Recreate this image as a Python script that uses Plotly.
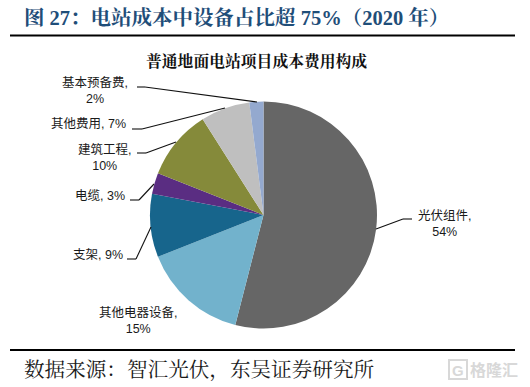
import plotly.graph_objects as go

W, H = 530, 387

categories = ["光伏组件", "其他电器设备", "支架", "电缆", "建筑工程", "其他费用", "基本预备费"]
values = [54, 15, 9, 3, 10, 7, 2]
colors = ["#666666", "#72B2CC", "#17658C", "#5A2D82", "#858A3A", "#BFBFBF", "#94A9CF"]

figure_title = "图 27\uff1a电站成本中设备占比超 75%\uff082020 年\uff09"
chart_title = "普通地面电站项目成本费用构成"
source_text = "数据来源\uff1a智汇光伏\uff0c东吴证券研究所"
watermark = "格隆汇"

SANS = "Liberation Sans, Noto Sans CJK SC, sans-serif"
SERIF = "Liberation Serif, Noto Serif CJK SC, Noto Sans CJK SC, serif"


def px(x):
    return x / W


def py(y):
    return 1 - y / H


fig = go.Figure(
    go.Pie(
        labels=categories,
        values=values,
        sort=False,
        direction="clockwise",
        rotation=0,
        textinfo="none",
        hoverinfo="label+percent",
        marker=dict(colors=colors, line=dict(width=0)),
        domain=dict(x=[px(150), px(377)], y=[py(328.5), py(101.5)]),
        showlegend=False,
    )
)

# label layout: centre x, centre y, two_lines, leader polyline
label_layout = {
    "基本预备费": (95, 91, True, [(137, 87), (145, 87), (257, 102)]),
    "其他费用": (88, 124, False, [(132, 129), (142, 129), (225, 108)]),
    "建筑工程": (104.5, 157.5, True, [(137, 153), (146, 153), (176, 142)]),
    "电缆": (100, 196, False, [(130, 200), (139, 200), (154, 184)]),
    "支架": (97.5, 255, False, [(127, 259), (136, 259), (151, 227)]),
    "其他电器设备": (137.5, 320.5, True, None),
    "光伏组件": (444, 223.5, True, [(412, 219), (403, 219), (376, 229)]),
}

annotations = []
shapes = []


def add_text(text, x, y, size, color="#1a1a1a", family=SANS, anchor="center"):
    annotations.append(
        dict(
            text=text,
            x=px(x),
            y=py(y),
            xref="paper",
            yref="paper",
            xanchor=anchor,
            yanchor="middle",
            showarrow=False,
            align="center",
            font=dict(size=size, color=color, family=family),
        )
    )


def add_line(x0, y0, x1, y1, width=1.1, color="#111111"):
    shapes.append(
        dict(
            type="line",
            xref="paper",
            yref="paper",
            x0=px(x0),
            y0=py(y0),
            x1=px(x1),
            y1=py(y1),
            line=dict(color=color, width=width),
        )
    )


for name, val in zip(categories, values):
    cx, cy, two, leader = label_layout[name]
    sep = "<br>" if two else " "
    add_text(f"{name},{sep}{val}%", cx, cy, 12.5)
    if leader:
        for a, b in zip(leader[:-1], leader[1:]):
            add_line(a[0], a[1], b[0], b[1])

add_text(f"<b>{figure_title}</b>", 22, 17, 20.5, color="#1F4E79", family=SERIF, anchor="left")
add_text(f"<b>{chart_title}</b>", 256, 61, 15.8, color="#111111", family=SERIF)
add_text(source_text, 22, 370, 20.6, color="#1a1a1a", family=SERIF, anchor="left")

# rules
add_line(10, 35.5, 515, 35.5, width=2, color="#000000")
add_line(10, 350, 515, 350, width=2, color="#000000")

# watermark
shapes.append(
    dict(
        type="rect",
        xref="paper",
        yref="paper",
        x0=px(449),
        y0=py(379),
        x1=px(467),
        y1=py(360),
        line=dict(color="#D8D8D8", width=2),
        fillcolor="rgba(0,0,0,0)",
    )
)
add_text("<b>G</b>", 458, 370, 15, color="#D8D8D8", family=SANS)
add_text(f"<b>{watermark}</b>", 493.5, 370, 16, color="#D8D8D8", family=SANS)

fig.update_layout(
    width=W,
    height=H,
    margin=dict(l=0, r=0, t=0, b=0),
    paper_bgcolor="white",
    plot_bgcolor="white",
    annotations=annotations,
    shapes=shapes,
)

fig.write_html(
    "out.html",
    config={"displayModeBar": False},
    post_script="document.body.style.margin='0';document.documentElement.style.overflow='hidden';",
)
